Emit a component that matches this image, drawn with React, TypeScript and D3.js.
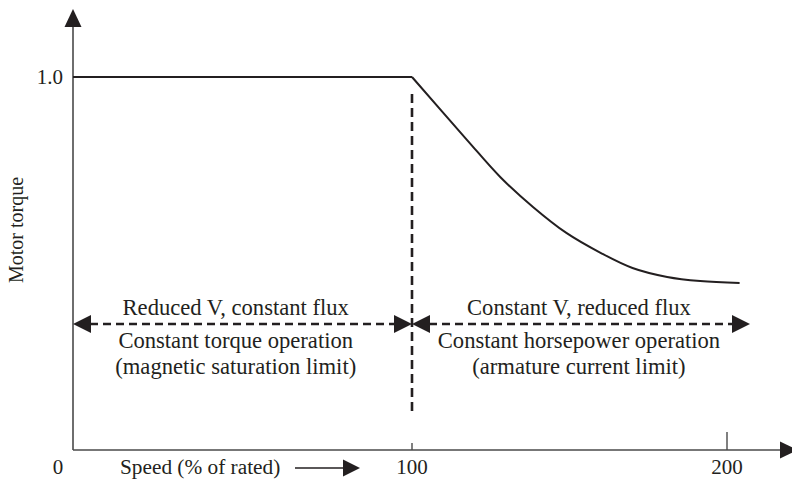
import React from "react";
import * as d3 from "d3";

const W = 792;
const H = 479;

// Curve data (speed in % of rated, torque in per-unit)
const speed = [0, 100, 117.5, 128, 138.5, 149, 160, 170, 181, 191.5, 204];
const torque = [1, 1, 0.831, 0.732, 0.651, 0.582, 0.528, 0.488, 0.464, 0.453, 0.448];

const xTicks = [100, 200];
const yTicks = [1.0];

// Region annotations
const regionFrom = [0, 100];
const regionTo = [100, 207.3];
const regionCenter = [48, 153];
const regionLines = [
  ["Reduced V, constant flux", "Constant torque operation", "(magnetic saturation limit)"],
  ["Constant V, reduced flux", "Constant horsepower operation", "(armature current limit)"],
];
const regionLevel = 0.338;

const INK = "#231f20";
const AXIS = "#4a4a4a";
const FONT = "'Liberation Serif', 'Times New Roman', serif";

function tri(tipX: number, tipY: number, dir: "left" | "right" | "up", len = 18, half = 8.5) {
  if (dir === "right") return `M${tipX},${tipY}L${tipX - len},${tipY - half}L${tipX - len},${tipY + half}Z`;
  if (dir === "left") return `M${tipX},${tipY}L${tipX + len},${tipY - half}L${tipX + len},${tipY + half}Z`;
  return `M${tipX},${tipY}L${tipX - half},${tipY + len}L${tipX + half},${tipY + len}Z`;
}

export default function App() {
  const x = d3.scaleLinear().domain([0, 100, 200]).range([73, 412, 727]);
  const y = d3.scaleLinear().domain([0, 1]).range([450, 77]);

  const flatIdx = [0, 1];
  const flatLine = d3
    .line<number>()
    .x((i) => x(speed[i]))
    .y((i) => y(torque[i]))(flatIdx);
  const curveIdx = d3.range(1, speed.length);
  const curveLine = d3
    .line<number>()
    .x((i) => x(speed[i]))
    .y((i) => y(torque[i]))
    .curve(d3.curveCatmullRom.alpha(0.5))(curveIdx);

  const x0 = x(0);
  const y0 = y(0);
  const yTop = 9;
  const xRight = 798;
  const ay = y(regionLevel);

  return (
    <svg
      width={W}
      height={H}
      style={{ position: "absolute", left: 0, top: 0, background: "#fff" }}
      fontFamily={FONT}
    >
      <rect width={W} height={H} fill="#fff" />
      {/* axes */}
      <line x1={x0} y1={y0} x2={x0} y2={yTop + 16} stroke={AXIS} strokeWidth={1.6} />
      <path d={tri(x0, yTop, "up")} fill={INK} />
      <line x1={x0} y1={y0} x2={xRight - 16} y2={y0} stroke={AXIS} strokeWidth={1.6} />
      <path d={tri(xRight, y0, "right")} fill={INK} />

      {/* x ticks */}
      {xTicks.map((t, i) => (
        <g key={t}>
          <line x1={x(t)} x2={x(t)} y1={y0} y2={y0 - (i === 0 ? 7 : 18)} stroke={AXIS} strokeWidth={1.4} />
          <text x={x(t)} y={474} textAnchor="middle" fontSize={21} fill={INK}>
            {t}
          </text>
        </g>
      ))}
      <text x={x0 - 15} y={474} textAnchor="middle" fontSize={21} fill={INK}>
        0
      </text>
      {yTicks.map((t) => (
        <text key={t} x={63} y={y(t) + 7} textAnchor="end" fontSize={21} fill={INK}>
          {t.toFixed(1)}
        </text>
      ))}

      {/* axis titles */}
      <text x={120} y={474} fontSize={21.3} fill={INK}>
        Speed (% of rated)
      </text>
      <line x1={295} x2={345} y1={468} y2={468} stroke={INK} strokeWidth={1.5} />
      <path d={tri(360, 468, "right", 17, 8.5)} fill={INK} />
      <text
        transform={`translate(23, ${230}) rotate(-90)`}
        textAnchor="middle"
        fontSize={20}
        fill={INK}
      >
        Motor torque
      </text>

      {/* torque curve */}
      <path d={flatLine || ""} fill="none" stroke={INK} strokeWidth={2} />
      <path d={curveLine || ""} fill="none" stroke={INK} strokeWidth={2} />

      {/* dashed vertical at rated speed */}
      <line x1={x(100)} x2={x(100)} y1={94} y2={413} stroke={INK} strokeWidth={2.6} strokeDasharray="9 5" />

      {/* region arrows & labels */}
      {regionFrom.map((f, i) => {
        const a = x(f);
        const b = x(regionTo[i]);
        const cx = x(regionCenter[i]);
        return (
          <g key={i}>
            <line x1={a + 17} x2={b - 17} y1={ay} y2={ay} stroke={INK} strokeWidth={2.6} strokeDasharray="8 5" />
            <path d={tri(a, ay, "left", 18, 9)} fill={INK} />
            <path d={tri(b, ay, "right", 18, 9)} fill={INK} />
            {regionLines[i].map((s, j) => (
              <text
                key={j}
                x={cx}
                y={ay + [-9, 24, 50][j]}
                textAnchor="middle"
                fontSize={22.6}
                fill={INK}
              >
                {s}
              </text>
            ))}
          </g>
        );
      })}
    </svg>
  );
}
